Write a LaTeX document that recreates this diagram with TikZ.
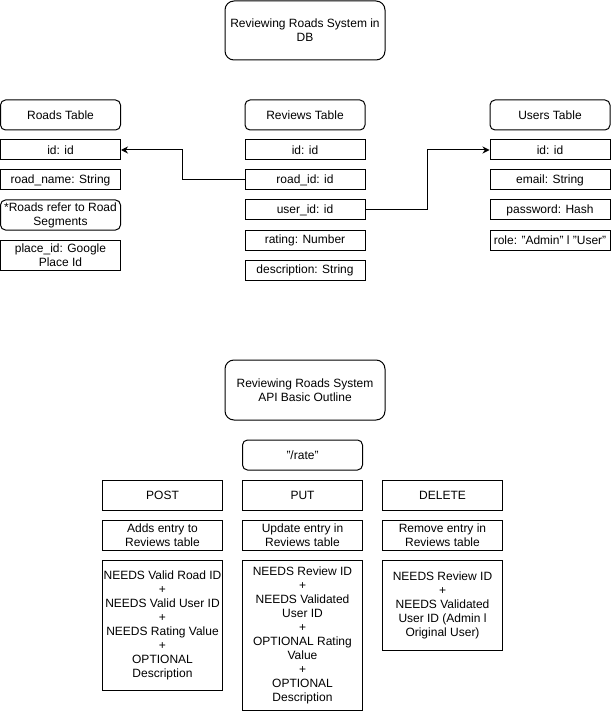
\documentclass[tikz,border=0pt]{standalone}
\usepackage{fontspec}
\setmainfont{Liberation Sans}
\usetikzlibrary{calc,arrows.meta}
\tikzset{
  box/.style={draw=black, line width=1pt, fill=white, inner sep=0pt, align=center,
    font=\fontsize{12}{14}\selectfont, text=black},
  rbox/.style={box, rounded corners=5pt},
  tbox/.style={box, rounded corners=9pt},
  conn/.style={draw=black, line width=1pt, -{Stealth[length=7pt,width=7pt]}}
}
\begin{document}
\begin{tikzpicture}[x=1pt,y=-1pt]
\useasboundingbox (0,0) rectangle (611,711);
% titles
\node[tbox, minimum width=160pt, minimum height=59pt] (title1) at (305,30.5) {Reviewing Roads System in\\DB};
% Roads table
\node[rbox, minimum width=120pt, minimum height=30pt] (roadsT) at (60.5,115) {Roads Table};
\node[box, minimum width=120pt, minimum height=20pt] (rdid) at (60.5,150) {id: id};
\node[box, minimum width=120pt, minimum height=20pt] (rdname) at (60.5,180) {road\_name: String};
\node[rbox, minimum width=120pt, minimum height=30pt] (rdnote) at (60.5,215) {*Roads refer to Road\\Segments};
\node[box, minimum width=120pt, minimum height=30pt] (rdplace) at (60.5,255) {place\_id: Google\\Place Id};
% Reviews table
\node[rbox, minimum width=120pt, minimum height=30pt] (revT) at (305,115) {Reviews Table};
\node[box, minimum width=120pt, minimum height=20pt] (rvid) at (305,150) {id: id};
\node[box, minimum width=120pt, minimum height=20pt] (rvroad) at (305,180) {road\_id: id};
\node[box, minimum width=120pt, minimum height=20pt] (rvuser) at (305,210) {user\_id: id};
\node[box, minimum width=120pt, minimum height=20pt] (rvrating) at (305,240) {rating: Number};
\node[box, minimum width=120pt, minimum height=20pt] (rvdesc) at (305,270) {description: String};
% Users table
\node[rbox, minimum width=120pt, minimum height=30pt] (usersT) at (550,115) {Users Table};
\node[box, minimum width=120pt, minimum height=20pt] (usid) at (550,150) {id: id};
\node[box, minimum width=120pt, minimum height=20pt] (usemail) at (550,180) {email: String};
\node[box, minimum width=120pt, minimum height=20pt] (uspass) at (550,210) {password: Hash};
\node[box, minimum width=120pt, minimum height=20pt] (usrole) at (550,240) {role: "Admin" l "User"};
% connectors
\draw[conn] (rvroad.west) -| ($(rvroad.west)!.5!(rdid.east)$) |- (rdid.east);
\draw[conn] (rvuser.east) -| ($(rvuser.east)!.5!(usid.west)$) |- (usid.west);
% API
\node[tbox, minimum width=160pt, minimum height=60pt] (title2) at (305,390) {Reviewing Roads System\\API Basic Outline};
\node[rbox, minimum width=120pt, minimum height=30pt] (rate) at (302.5,455) {"/rate"};
\node[box, minimum width=120pt, minimum height=30pt] (post) at (162.5,495) {POST};
\node[box, minimum width=120pt, minimum height=30pt] (put) at (302.5,495) {PUT};
\node[box, minimum width=120pt, minimum height=30pt] (del) at (442.5,495) {DELETE};
\node[box, minimum width=120pt, minimum height=30pt] (postd) at (162.5,535) {Adds entry to\\Reviews table};
\node[box, minimum width=120pt, minimum height=30pt] (putd) at (302.5,535) {Update entry in\\Reviews table};
\node[box, minimum width=120pt, minimum height=30pt] (deld) at (442.5,535) {Remove entry in\\Reviews table};
\node[box, minimum width=120pt, minimum height=130pt] (postn) at (162.5,625) {NEEDS Valid Road ID\\+\\NEEDS Valid User ID\\+\\NEEDS Rating Value\\+\\OPTIONAL\\Description};
\node[box, minimum width=120pt, minimum height=150pt] (putn) at (302.5,635) {NEEDS Review ID\\+\\NEEDS Validated\\User ID\\+\\OPTIONAL Rating\\Value\\+\\OPTIONAL\\Description};
\node[box, minimum width=120pt, minimum height=90pt] (deln) at (442.5,605) {NEEDS Review ID\\+\\NEEDS Validated\\User ID (Admin l\\Original User)};
\end{tikzpicture}
\end{document}
